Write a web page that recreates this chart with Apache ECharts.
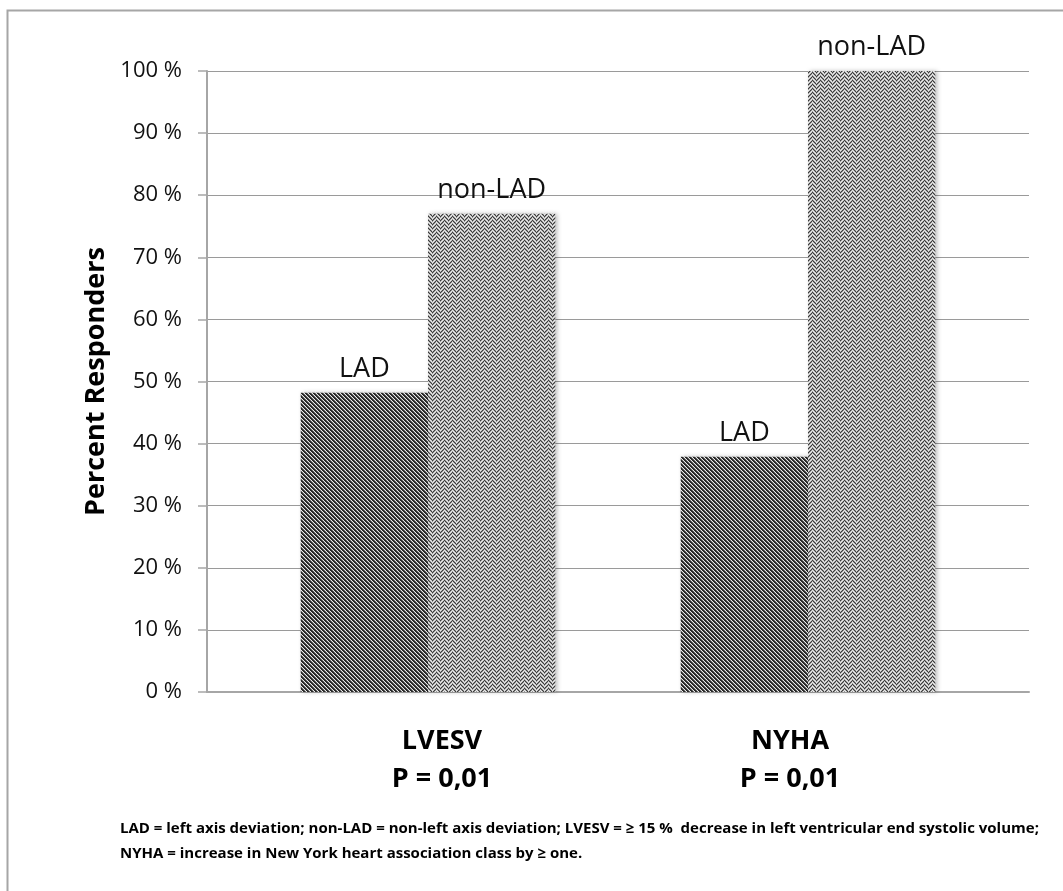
<!DOCTYPE html>
<html>
<head>
<meta charset="utf-8">
<script src="https://cdn.jsdelivr.net/npm/echarts@6/dist/echarts.min.js"></script>
<style>
html,body{margin:0;padding:0;background:#fff;}
#chart{width:1063px;height:891px;}
</style>
</head>
<body>
<div id="chart"></div>
<script>
// ---- data ----
const categories = ['LVESV', 'NYHA'];
const categoryLabels = ['LVESV\nP = 0,01', 'NYHA\nP = 0,01'];
const seriesNames = ['LAD', 'non-LAD'];
const ladValues = [48.2, 37.9];
const nonLadValues = [77.0, 100];
const yAxisName = 'Percent Responders';
const footnoteLines = [
  'LAD = left axis deviation; non-LAD = non-left axis deviation; LVESV = \u2265 15 %  decrease in left ventricular end systolic volume;',
  'NYHA = increase in New York heart association class by \u2265 one.'
];

// ---- patterns ----
function makeStripe() {
  const c = document.createElement('canvas');
  c.width = 4; c.height = 4;
  const ctx = c.getContext('2d');
  const img = ctx.createImageData(4, 4);
  for (let y = 0; y < 4; y++) for (let x = 0; x < 4; x++) {
    const k = ((x - y) % 4 + 4) % 4;
    const v = k === 3 ? 235 : (k === 2 ? 110 : 40);
    const i = (y * 4 + x) * 4;
    img.data[i] = v; img.data[i+1] = v; img.data[i+2] = v; img.data[i+3] = 255;
  }
  ctx.putImageData(img, 0, 0);
  return c;
}
function makeWeave() {
  const n = 8;
  const c = document.createElement('canvas');
  c.width = n; c.height = n;
  const ctx = c.getContext('2d');
  const img = ctx.createImageData(n, n);
  for (let y = 0; y < n; y++) for (let x = 0; x < n; x++) {
    const half = Math.floor(x / 4) % 2;
    const d = half === 0 ? ((x + y) % 4) : ((x - y + 16) % 4);
    let v;
    if (d === 0) v = 60; else if (d === 1) v = 150; else if (d === 2) v = 235; else v = 190;
    const i = (y * n + x) * 4;
    img.data[i] = v; img.data[i+1] = v; img.data[i+2] = v; img.data[i+3] = 255;
  }
  ctx.putImageData(img, 0, 0);
  return c;
}

const chart = echarts.init(document.getElementById('chart'), null, {renderer: 'canvas'});
const FONT = '"Open Sans", "Noto Sans", sans-serif';
const TOP = 71, BOTTOM = 199;

const labelStyle = {
  show: true, position: 'top', distance: 10,
  formatter: p => p.seriesName,
  fontSize: 27, color: '#111', fontFamily: FONT
};
const barShadow = {shadowColor: 'rgba(0,0,0,0.25)', shadowBlur: 4, shadowOffsetX: 2, shadowOffsetY: 0};

chart.setOption({
  backgroundColor: '#ffffff',
  animation: false,
  grid: [
    {left: 207, right: 34, top: TOP, bottom: BOTTOM},
    {left: 238, right: 65, top: TOP, bottom: BOTTOM},
    {left: 268, right: 99, top: TOP, bottom: BOTTOM}
  ],
  xAxis: [
    {gridIndex: 0, type: 'category', data: categories,
     axisLine: {show: true, lineStyle: {color: '#a6a6a6', width: 2}},
     axisTick: {show: false}, axisLabel: {show: false}, splitLine: {show: false}},
    {gridIndex: 1, type: 'category', data: categories, show: false},
    {gridIndex: 2, type: 'category', data: categoryLabels,
     axisLine: {show: false}, axisTick: {show: false}, splitLine: {show: false},
     axisLabel: {show: true, margin: 30, fontSize: 27, fontWeight: 'bold', lineHeight: 38,
                 color: '#000', fontFamily: FONT}}
  ],
  yAxis: [
    {gridIndex: 0, type: 'value', min: 0, max: 100, interval: 10,
     name: yAxisName, nameLocation: 'middle', nameGap: 96, nameRotate: 90,
     nameTextStyle: {fontSize: 27, fontWeight: 'bold', color: '#000', fontFamily: FONT},
     axisLine: {show: true, lineStyle: {color: '#a6a6a6', width: 2}},
     axisTick: {show: true, length: 9, lineStyle: {color: '#a6a6a6', width: 1.5}},
     axisLabel: {formatter: '{value} %', fontSize: 22, color: '#111', margin: 25, fontFamily: FONT},
     splitLine: {show: true, lineStyle: {color: '#9a9a9a', width: 1}}},
    {gridIndex: 1, type: 'value', min: 0, max: 100, show: false, splitLine: {show: false}},
    {gridIndex: 2, type: 'value', min: 0, max: 100, show: false, splitLine: {show: false}}
  ],
  series: [
    {name: seriesNames[0], type: 'bar', xAxisIndex: 1, yAxisIndex: 1,
     data: ladValues, barGap: '0%', barCategoryGap: '33%',
     itemStyle: Object.assign({color: {image: makeStripe(), repeat: 'repeat'}}, barShadow),
     label: labelStyle},
    {name: seriesNames[1], type: 'bar', xAxisIndex: 1, yAxisIndex: 1,
     data: nonLadValues, barGap: '0%', barCategoryGap: '33%',
     itemStyle: Object.assign({color: {image: makeWeave(), repeat: 'repeat'}}, barShadow),
     label: labelStyle}
  ],
  graphic: [
    {type: 'rect', left: 5, top: 8, shape: {width: 1100, height: 1000}, silent: true,
     style: {fill: 'none', stroke: '#a6a6a6', lineWidth: 2}},
    {type: 'text', left: 120, top: 816,
     style: {text: footnoteLines.join('\n'), fontSize: 15, fontWeight: 'bold', lineHeight: 25,
             fill: '#000', fontFamily: FONT}}
  ]
});
</script>
</body>
</html>
